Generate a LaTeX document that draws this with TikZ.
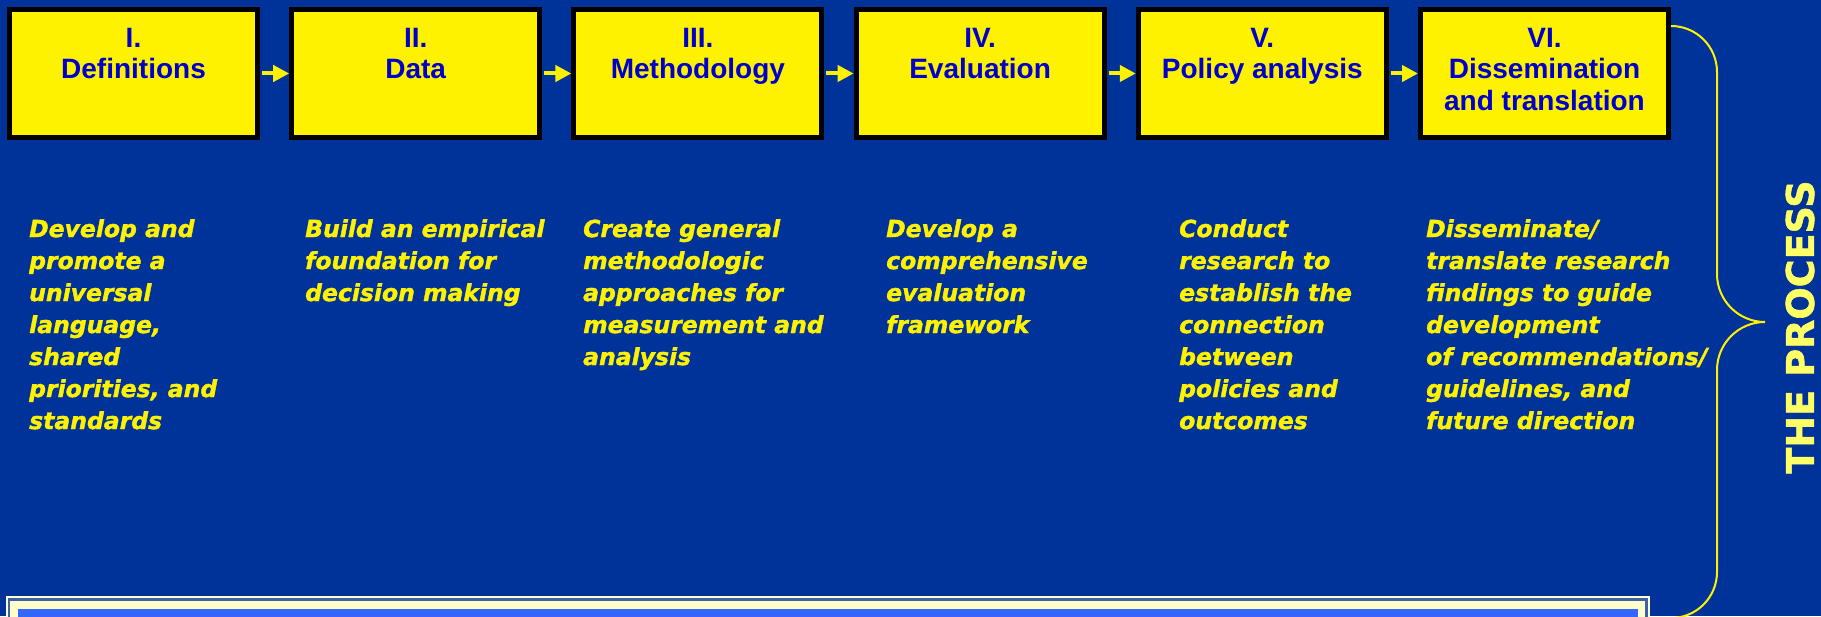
\documentclass[tikz,border=0pt]{standalone}
\usepackage{fontspec}
\usetikzlibrary{arrows.meta,positioning}
\newfontfamily\titlefont{Liberation Sans}
\newfontfamily\descfont{DejaVu Sans}[BoldItalicFont={DejaVu Sans Bold Oblique},BoldItalicFeatures={FakeBold=1.5}]
\newfontfamily\procfont{DejaVu Sans}[BoldFeatures={FakeBold=1.5}]
\definecolor{slide}{HTML}{003399}
\definecolor{titleblue}{HTML}{0000CC}
\definecolor{paleyellow}{HTML}{FFFF66}
\definecolor{cream}{HTML}{FFFFCC}
\definecolor{panelline}{HTML}{3F5FA8}
\definecolor{panelblue}{HTML}{3366FF}

\begin{document}
\begin{tikzpicture}[x=1pt,y=1pt,
	stage/.style={draw=black,line width=5,fill=yellow,minimum width=248,minimum height=128,inner sep=0},
	stagename/.style={text=titleblue,inner sep=0,align=center,
		font=\titlefont\bfseries\fontsize{28}{31.5}\selectfont},
	desc/.style={text=yellow,inner sep=0,align=left,anchor=north west,
		font=\descfont\bfseries\itshape\fontsize{23.5}{32}\selectfont},
	flow/.style={draw=yellow,line width=4,-{Triangle[length=16pt,width=16pt]}},
	bracepath/.style={draw=yellow,line width=2}]
		\fill[slide] (0,0) rectangle (1821,616);
		\useasboundingbox (0,0) rectangle (1821,616);
		
		\node[stage] (def) at (133.5,542.5) {};
		\node[stage] (data) at (415.7,542.5) {};
		\node[stage] (meth) at (697.9,542.5) {};
		\node[stage] (eval) at (980.1,542.5) {};
		\node[stage] (policy) at (1262.3,542.5) {};
		\node[stage] (dissem) at (1544.5,542.5) {};
		
		\node[stagename,below=21pt of def.north] (defname) {I.\\Definitions};
		\node[stagename,below=21pt of data.north] (dataname) {II.\\Data};
		\node[stagename,below=21pt of meth.north] (methname) {III.\\Methodology};
		\node[stagename,below=21pt of eval.north] (evalname) {IV.\\Evaluation};
		\node[stagename,below=21pt of policy.north] (policyname) {V.\\Policy analysis};
		\node[stagename,below=21pt of dissem.north] (dissemname) {VI.\\Dissemination\\and translation};
		
		\draw[flow] ([xshift=2pt]def.east) -- (data.west);
		\draw[flow] ([xshift=2pt]data.east) -- (meth.west);
		\draw[flow] ([xshift=2pt]meth.east) -- (eval.west);
		\draw[flow] ([xshift=2pt]eval.east) -- (policy.west);
		\draw[flow] ([xshift=2pt]policy.east) -- (dissem.west);
		
		\node[desc] (defdesc) at (29,397) {Develop and\\promote a\\universal\\language,\\shared\\priorities, and\\standards};
		\node[desc] (datadesc) at (305,397) {Build an empirical\\foundation for\\decision making};
		\node[desc] (methdesc) at (583,397) {Create general\\methodologic\\approaches for\\measurement and\\analysis};
		\node[desc] (evaldesc) at (886,397) {Develop a\\comprehensive\\evaluation\\framework};
		\node[desc] (policydesc) at (1179,397) {Conduct\\research to\\establish the\\connection\\between\\policies and\\outcomes};
		\node[desc] (disseminatedesc) at (1426,397) {Disseminate/\\translate research\\findings to guide\\development\\of recommendations/\\guidelines, and\\future direction};
		
		\draw[bracepath] ([yshift=-19pt]dissem.north east) arc[start angle=90,end angle=0,radius=46]
			-- ++(0,-202) arc[start angle=180,end angle=270,radius=48] coordinate (tip)
			arc[start angle=90,end angle=180,radius=48] -- ++(0,-202)
			arc[start angle=0,end angle=-90,radius=46];
		\node[text=paleyellow,rotate=90,font=\procfont\bfseries\fontsize{38}{40}\selectfont] (process) at (1800,289) {THE PROCESS};
		
		\fill[cream] (6,-10) rectangle (1650,20);
		\draw[panelline,line width=2.5] (9,-10) rectangle (1646.5,16.5);
		\fill[panelblue] (18,-10) rectangle (1638,7);
\end{tikzpicture}
\end{document}
